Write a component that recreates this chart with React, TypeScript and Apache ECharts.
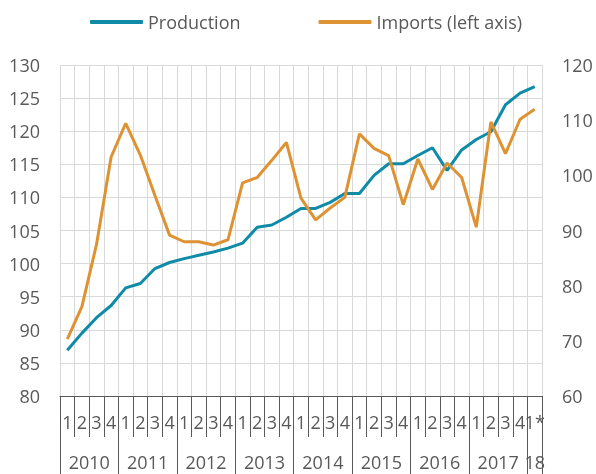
import React, { useEffect, useRef } from 'react';
import * as echarts from 'echarts';

const years = ['2010', '2011', '2012', '2013', '2014', '2015', '2016', '2017', '18'];
const quartersPerYear = [4, 4, 4, 4, 4, 4, 4, 4, 1];
const quarterLabels = [
  '1', '2', '3', '4', '1', '2', '3', '4', '1', '2', '3', '4', '1', '2', '3', '4',
  '1', '2', '3', '4', '1', '2', '3', '4', '1', '2', '3', '4', '1', '2', '3', '4', '1*',
];
const production = [
  68.3, 71.4, 74.2, 76.4, 79.6, 80.4, 83.1, 84.2, 84.9, 85.5, 86.1, 86.8, 87.7, 90.6, 91.0, 92.4,
  94.0, 94.0, 95.1, 96.7, 96.7, 100.0, 102.1, 102.1, 103.6, 105.0, 100.9, 104.6, 106.5, 107.9, 112.8,
  114.9, 116.1,
];
const imports = [
  88.6, 93.5, 102.9, 116.1, 121.2, 116.4, 110.3, 104.3, 103.3, 103.3, 102.8, 103.6, 112.2, 113.0,
  115.6, 118.3, 109.9, 106.6, 108.4, 110.0, 119.6, 117.4, 116.3, 108.9, 115.8, 111.2, 115.2, 113.0,
  105.5, 121.4, 116.6, 121.8, 123.3,
];
const leftTicks = { min: 80, max: 130, interval: 5 };
const rightTicks = { min: 60, max: 120, interval: 10 };

const FONT = 'Open Sans';
const TEXT = '#595959';
const GRID = '#d9d9d9';
const TEAL = '#0f8ba7';
const ORANGE = '#dd9233';

export default function App() {
  const ref = useRef<HTMLDivElement>(null);
  useEffect(() => {
    if (!ref.current) return;
    const chart = echarts.init(ref.current, undefined, { renderer: 'svg' });

    // half-quarter positions for the year axis
    const nHalf = quarterLabels.length * 2 + 1;
    const yearData: string[] = new Array(nHalf).fill('');
    const boundary: boolean[] = new Array(nHalf).fill(false);
    let s = 0;
    years.forEach((y, i) => {
      const n = quartersPerYear[i];
      yearData[2 * s + n] = y;
      boundary[2 * s] = true;
      boundary[2 * (s + n)] = true;
      s += n;
    });
    const yearCats = yearData.map((v, i) => (v === '' ? ' '.repeat(i + 1) : v));

    chart.setOption({
      animation: false,
      textStyle: { fontFamily: FONT },
      legend: {
        left: 85,
        top: 8,
        itemWidth: 53,
        itemHeight: 4,
        itemGap: 78,
        icon: 'roundRect',
        textStyle: { fontFamily: FONT, fontSize: 18, color: TEXT },
        data: ['Production', 'Imports (left axis)'],
      },
      grid: { left: 60, right: 54, top: 65, bottom: 78 },
      xAxis: [
        {
          type: 'category',
          data: quarterLabels,
          boundaryGap: true,
          position: 'bottom',
          axisLine: { show: true, lineStyle: { color: TEXT, width: 1 } },
          axisTick: { show: true, interval: 0, length: 41, lineStyle: { color: TEXT } },
          axisLabel: { interval: 0, margin: 17, color: TEXT, fontSize: 18, fontFamily: FONT },
          splitLine: { show: true, interval: 0, lineStyle: { color: GRID, width: 1 } },
        },
        {
          type: 'category',
          data: yearCats,
          boundaryGap: false,
          position: 'bottom',
          offset: 0,
          axisLine: { show: false },
          axisTick: {
            show: true,
            interval: (i: number) => boundary[i],
            length: 78,
            lineStyle: { color: TEXT },
          },
          axisLabel: {
            interval: (i: number) => yearData[i] !== '',
            formatter: (v: string) => v.trim(),
            margin: 57,
            color: TEXT,
            fontSize: 18,
            fontFamily: FONT,
          },
          splitLine: { show: false },
        },
      ],
      yAxis: [
        {
          type: 'value',
          position: 'left',
          ...leftTicks,
          axisLine: { show: false },
          axisTick: { show: false },
          axisLabel: { margin: 20, color: TEXT, fontSize: 18, fontFamily: FONT },
          splitLine: { show: true, lineStyle: { color: GRID, width: 1 } },
        },
        {
          type: 'value',
          position: 'right',
          ...rightTicks,
          axisLine: { show: false },
          axisTick: { show: false },
          axisLabel: { margin: 20, color: TEXT, fontSize: 18, fontFamily: FONT },
          splitLine: { show: false },
        },
      ],
      series: [
        {
          name: 'Production',
          type: 'line',
          xAxisIndex: 0,
          yAxisIndex: 1,
          data: production,
          symbol: 'none',
          lineStyle: { color: TEAL, width: 3 },
          itemStyle: { color: TEAL },
        },
        {
          name: 'Imports (left axis)',
          type: 'line',
          xAxisIndex: 0,
          yAxisIndex: 0,
          data: imports,
          symbol: 'none',
          lineStyle: { color: ORANGE, width: 3 },
          itemStyle: { color: ORANGE },
        },
      ],
    });
    return () => chart.dispose();
  }, []);
  return (
    <div
      ref={ref}
      style={{ position: 'fixed', left: 0, top: 0, width: 596, height: 474 }}
    />
  );
}
